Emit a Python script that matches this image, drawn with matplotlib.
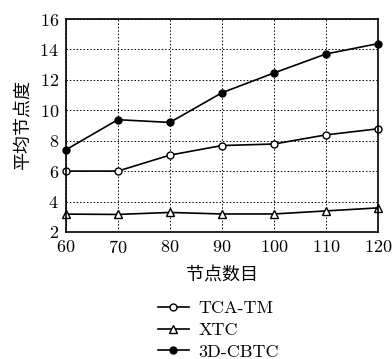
import matplotlib
matplotlib.use('Agg')
import matplotlib.pyplot as plt

plt.rcParams['font.family'] = ['cmr10', 'Noto Sans CJK SC']
plt.rcParams['mathtext.fontset'] = 'cm'
plt.rcParams['axes.formatter.use_mathtext'] = True

nodes = [60, 70, 80, 90, 100, 110, 120]
tca_tm = [6.0, 6.0, 7.05, 7.68, 7.78, 8.38, 8.78]
xtc = [3.17, 3.15, 3.28, 3.18, 3.18, 3.38, 3.58]
cbtc = [7.4, 9.38, 9.2, 11.15, 12.45, 13.7, 14.38]

fig = plt.figure(figsize=(3.92, 3.59), dpi=100)
ax = fig.add_axes([0.168, 0.354, 0.796, 0.593])

ax.plot(nodes, tca_tm, color='black', lw=1.2, marker='o', ms=5,
        mfc='white', mec='black', mew=1.0, label='TCA-TM', clip_on=False)
ax.plot(nodes, xtc, color='black', lw=1.2, marker='^', ms=5.5,
        mfc='white', mec='black', mew=1.0, label='XTC', clip_on=False)
ax.plot(nodes, cbtc, color='black', lw=1.2, marker='o', ms=5,
        mfc='black', mec='black', label='3D-CBTC', clip_on=False)

ax.set_xlim(60, 120)
ax.set_ylim(2, 16)
ax.set_xticks(nodes)
ax.set_yticks([2, 4, 6, 8, 10, 12, 14, 16])
ax.grid(True, color='black', linestyle=(0, (1.5, 2)), linewidth=0.7)
ax.tick_params(length=0, labelsize=13, pad=5)
for s in ax.spines.values():
    s.set_linewidth(1.2)

ax.set_xlabel('节点数目', fontsize=13, labelpad=7)
ax.set_ylabel('平均节点度', fontsize=13, labelpad=6)

ax.legend(loc='upper left', bbox_to_anchor=(0.295, -0.322), frameon=False,
          fontsize=13, handlelength=1.7, labelspacing=0.34, handletextpad=0.55,
          borderpad=0, borderaxespad=0)

fig.savefig('out.png', dpi=100)
